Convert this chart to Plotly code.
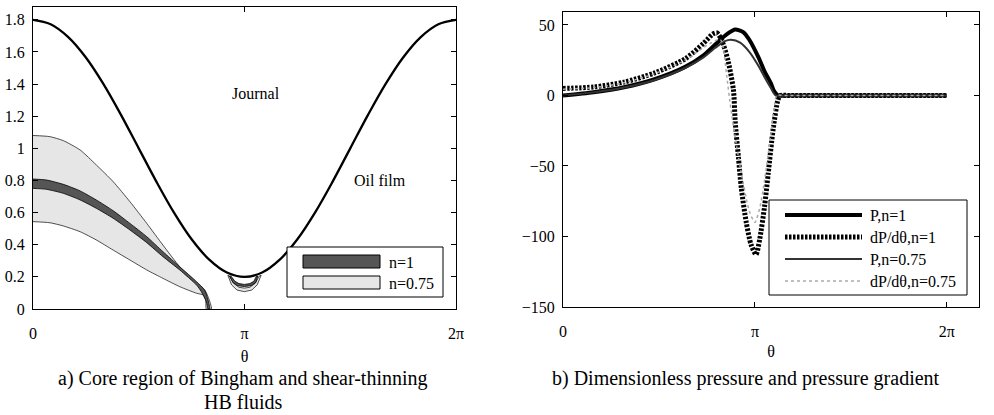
import math
import plotly.graph_objects as go

PI = math.pi

# ---------------- Panel a) data ----------------
journal_theta = [k * PI / 12 for k in range(25)]
journal_h = [1.800, 1.773, 1.693, 1.566, 1.400, 1.207, 1.000, 0.793, 0.600, 0.434, 0.307, 0.227, 0.200,
             0.227, 0.307, 0.434, 0.600, 0.793, 1.000, 1.207, 1.400, 1.566, 1.693, 1.773, 1.800]

# n=0.75 core (light), upper and lower boundaries
light_up_theta = [0.0, 0.25, 0.45, 0.70, 0.94, 1.19, 1.44, 1.69, 1.93, 2.18, 2.43, 2.55, 2.60, 2.65]
light_up_y = [1.08, 1.073, 1.048, 0.99, 0.897, 0.793, 0.668, 0.533, 0.398, 0.263, 0.16, 0.118, 0.077, 0.0]
light_lo_theta = [0.0, 0.25, 0.45, 0.70, 0.94, 1.19, 1.44, 1.69, 1.93, 2.18, 2.43, 2.53, 2.565, 2.575]
light_lo_y = [0.544, 0.537, 0.517, 0.481, 0.43, 0.367, 0.305, 0.243, 0.191, 0.139, 0.098, 0.087, 0.056, 0.0]

# n=1 core (dark)
dark_up_theta = [0.0, 0.20, 0.45, 0.70, 0.94, 1.19, 1.44, 1.69, 1.93, 2.18, 2.43, 2.55, 2.60, 2.625]
dark_up_y = [0.809, 0.803, 0.776, 0.735, 0.679, 0.612, 0.533, 0.45, 0.357, 0.263, 0.17, 0.118, 0.056, 0.0]
dark_lo_theta = [0.0, 0.20, 0.45, 0.70, 0.94, 1.19, 1.44, 1.69, 1.93, 2.18, 2.43, 2.50, 2.575, 2.60]
dark_lo_y = [0.751, 0.745, 0.72, 0.679, 0.627, 0.565, 0.492, 0.413, 0.326, 0.243, 0.149, 0.108, 0.045, 0.0]

# small core crescents near theta = pi
cres_light_theta = [2.894, 2.95, 3.03, 3.14, 3.25, 3.33, 3.389, 3.36, 3.30, 3.22, 3.14, 3.06, 2.98, 2.92]
cres_light_y = [0.21, 0.15, 0.118, 0.108, 0.118, 0.15, 0.21, 0.205, 0.16, 0.135, 0.13, 0.135, 0.16, 0.205]
cres_dark_theta = [2.919, 2.97, 3.04, 3.14, 3.24, 3.31, 3.339, 3.32, 3.28, 3.22, 3.14, 3.06, 3.00, 2.94]
cres_dark_y = [0.205, 0.165, 0.145, 0.14, 0.145, 0.165, 0.205, 0.205, 0.172, 0.158, 0.153, 0.158, 0.172, 0.205]

# ---------------- Panel b) data ----------------
p1_theta = [0, 0.5, 1.0, 1.5, 2.0, 2.3, 2.55, 2.7, 2.82, 2.95, 3.05, 3.2, 3.3, 3.4, 3.45, 3.52, 3.7, 2 * PI]
p1_val = [0, 2.3, 5.8, 11.5, 20.3, 28.5, 38.5, 44, 46.8, 45, 39.5, 27, 17, 9, 3.5, 0, 0, 0]

dp1_theta = [0, 0.5, 1.0, 1.5, 2.0, 2.3, 2.45, 2.52, 2.6, 2.7, 2.79, 2.82, 2.87, 2.92, 3.0, 3.08, 3.16,
             3.22, 3.3, 3.36, 3.44, 3.52, 3.56, 3.7, 2 * PI]
dp1_val = [5, 6, 9.5, 16, 26, 37, 43.5, 44.4, 39, 25, 4, -19, -43, -66, -90, -106, -112.7,
           -102, -78.5, -55, -24, -3, 0, 0, 0]

p075_theta = [0, 0.5, 1.0, 1.5, 2.0, 2.3, 2.5, 2.65, 2.75, 2.9, 3.05, 3.2, 3.3, 3.4, 3.48, 3.65, 2 * PI]
p075_val = [0, 2.2, 5.6, 11, 19.5, 27, 34, 38.5, 39.5, 37.5, 31, 21, 13, 5.5, 0, 0, 0]

dp075_theta = [0, 0.5, 1.0, 1.5, 2.0, 2.3, 2.5, 2.58, 2.63, 2.68, 2.75, 2.85, 2.95, 3.05, 3.14, 3.22,
               3.3, 3.38, 3.46, 3.5, 3.65, 2 * PI]
dp075_val = [4.5, 5.5, 9, 15.5, 25, 34, 39, 39.5, 32, 14, -10, -38, -62, -82, -90, -80,
             -60, -35, -8, 0, 0, 0]

left_yticks = [0, 0.2, 0.4, 0.6, 0.8, 1.0, 1.2, 1.4, 1.6, 1.8]
left_yticklabels = ["0", "0.2", "0.4", "0.6", "0.8", "1", "1.2", "1.4", "1.6", "1.8"]
right_yticks = [50, 0, -50, -100, -150]
right_yticklabels = ["50", "0", "\u221250", "\u2212100", "\u2212150"]
xticks = [0, PI, 2 * PI]
xticklabels = ["0", "\u03c0", "2\u03c0"]

legend_a = ["n=1", "n=0.75"]
legend_b = ["P,n=1", "dP/d\u03b8,n=1", "P,n=0.75", "dP/d\u03b8,n=0.75"]

W, H = 994, 415
FONT = "Liberation Serif"
FS = 16


def fx(px):
    return px / W


def fy(py):
    return 1 - py / H


fig = go.Figure()


def poly(xu, yu, xl, yl):
    return list(xu) + list(reversed(xl)), list(yu) + list(reversed(yl))


lx, ly = poly(light_up_theta, light_up_y, light_lo_theta, light_lo_y)
fig.add_trace(go.Scatter(x=lx, y=ly, fill="toself", fillcolor="#e6e6e6", mode="lines",
                         line=dict(color="#222", width=0.8, shape="spline", smoothing=0.6),
                         xaxis="x", yaxis="y", showlegend=False, hoverinfo="skip"))
dx, dy = poly(dark_up_theta, dark_up_y, dark_lo_theta, dark_lo_y)
fig.add_trace(go.Scatter(x=dx, y=dy, fill="toself", fillcolor="#555555", mode="lines",
                         line=dict(color="#000", width=0.8, shape="spline", smoothing=0.6),
                         xaxis="x", yaxis="y", showlegend=False, hoverinfo="skip"))
fig.add_trace(go.Scatter(x=cres_light_theta + cres_light_theta[:1], y=cres_light_y + cres_light_y[:1],
                         fill="toself", fillcolor="#e6e6e6", mode="lines",
                         line=dict(color="#222", width=0.8), xaxis="x", yaxis="y",
                         showlegend=False, hoverinfo="skip"))
fig.add_trace(go.Scatter(x=cres_dark_theta + cres_dark_theta[:1], y=cres_dark_y + cres_dark_y[:1],
                         fill="toself", fillcolor="#555555", mode="lines",
                         line=dict(color="#000", width=0.8), xaxis="x", yaxis="y",
                         showlegend=False, hoverinfo="skip"))
fig.add_trace(go.Scatter(x=journal_theta, y=journal_h, mode="lines",
                         line=dict(color="black", width=2.3, shape="spline"),
                         xaxis="x", yaxis="y", showlegend=False))

# panel b lines
styles = [
    dict(color="black", width=4),
    dict(color="black", width=5, dash="2.5px,1.5px"),
    dict(color="#333333", width=2),
    dict(color="#aaaaaa", width=1.5, dash="3px,3px"),
]
series_b = [(p1_theta, p1_val), (dp1_theta, dp1_val), (p075_theta, p075_val), (dp075_theta, dp075_val)]
for (tx, vy), st, name in zip(series_b, styles, legend_b):
    fig.add_trace(go.Scatter(x=tx, y=vy, mode="lines", name=name,
                             line=dict(shape="spline", smoothing=0.7, **st),
                             xaxis="x2", yaxis="y2", showlegend=False))

tickfont = dict(family=FONT, size=FS, color="black")
axis_common = dict(showline=True, linecolor="black", linewidth=1, mirror="ticks", ticks="inside",
                   ticklen=5, tickcolor="black", showgrid=False, zeroline=False, tickfont=tickfont,
                   automargin=False)

fig.update_layout(
    width=W, height=H, margin=dict(l=0, r=0, t=0, b=0, autoexpand=False),
    paper_bgcolor="white", plot_bgcolor="white",
    xaxis=dict(domain=[fx(33), fx(456)], range=[0, 2 * PI], tickvals=xticks, ticktext=xticklabels,
               anchor="y", ticklabelstandoff=10,
               title=dict(text="\u03b8", font=dict(family=FONT, size=FS, color="black"), standoff=9),
               **axis_common),
    yaxis=dict(domain=[fy(309), fy(7)], range=[0, 1.88], tickvals=left_yticks, ticktext=left_yticklabels,
               anchor="x", ticklabelstandoff=4, **axis_common),
    xaxis2=dict(domain=[fx(563), fx(979)], range=[0, 6.81], tickvals=xticks, ticktext=xticklabels,
                anchor="y2", ticklabelstandoff=10,
                title=dict(text="\u03b8", font=dict(family=FONT, size=FS, color="black"), standoff=6),
                **axis_common),
    yaxis2=dict(domain=[fy(307), fy(12)], range=[-150, 59.2], tickvals=right_yticks,
                ticktext=right_yticklabels, anchor="x2", ticklabelstandoff=4, **axis_common),
)

ann = []
ann.append(dict(x=3.305, y=1.339, xref="x", yref="y", text="Journal", showarrow=False,
                font=dict(family=FONT, size=FS, color="black")))
ann.append(dict(x=5.157, y=0.797, xref="x", yref="y", text="Oil film", showarrow=False,
                font=dict(family=FONT, size=FS, color="black")))

# Legend a (drawn)
shapes = []
shapes.append(dict(type="rect", xref="paper", yref="paper", x0=fx(287), x1=fx(443), y0=fy(297), y1=fy(247),
                   line=dict(color="black", width=1), fillcolor="white", layer="above"))
for i, (fc, lab) in enumerate(zip(["#555555", "#e6e6e6"], legend_a)):
    top = 255 + i * 21
    shapes.append(dict(type="rect", xref="paper", yref="paper", x0=fx(303), x1=fx(380), y0=fy(top + 13),
                       y1=fy(top), line=dict(color="black", width=1), fillcolor=fc, layer="above"))
    ann.append(dict(x=fx(387), y=fy(top + 7), xref="paper", yref="paper", text=lab, showarrow=False,
                    xanchor="left", yanchor="middle", font=dict(family=FONT, size=FS, color="black")))

# Legend b (drawn)
shapes.append(dict(type="rect", xref="paper", yref="paper", x0=fx(769), x1=fx(967), y0=fy(295), y1=fy(200),
                   line=dict(color="black", width=1), fillcolor="white", layer="above"))
for i, (st, lab) in enumerate(zip(styles, legend_b)):
    yy = 215 + i * 22
    shapes.append(dict(type="line", xref="paper", yref="paper", x0=fx(785), x1=fx(862), y0=fy(yy), y1=fy(yy),
                       line=st, layer="above"))
    ann.append(dict(x=fx(868), y=fy(yy), xref="paper", yref="paper", text=lab, showarrow=False,
                    xanchor="left", yanchor="middle", font=dict(family=FONT, size=FS, color="black")))

# Captions
capfont = dict(family=FONT, size=20, color="black")
ann.append(dict(x=fx(243), y=fy(378), xref="paper", yref="paper", showarrow=False, xanchor="center",
                text="a) Core region of Bingham and shear-thinning", font=capfont, yanchor="middle"))
ann.append(dict(x=fx(243), y=fy(402), xref="paper", yref="paper", showarrow=False, xanchor="center",
                text="HB fluids", font=capfont, yanchor="middle"))
ann.append(dict(x=fx(746), y=fy(378), xref="paper", yref="paper", showarrow=False, xanchor="center",
                text="b) Dimensionless pressure and pressure gradient", font=capfont, yanchor="middle"))

fig.update_layout(annotations=ann, shapes=shapes)
fig.write_html("out.html")
